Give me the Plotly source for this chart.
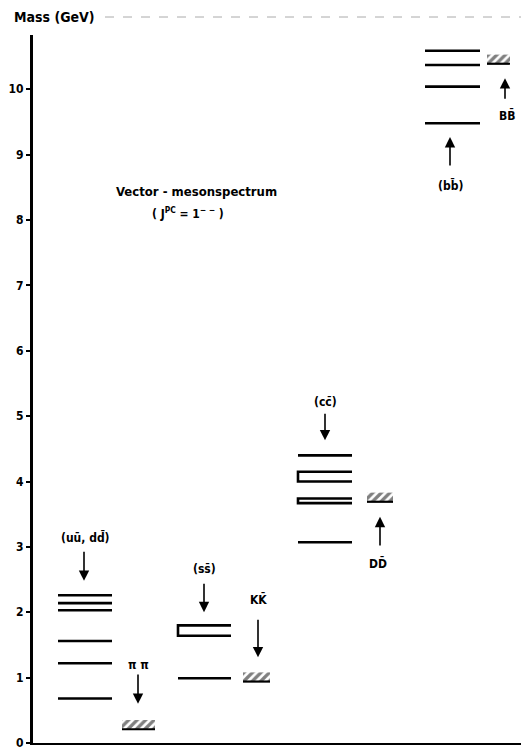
import plotly.graph_objects as go

# ---------------- data (masses in GeV) ----------------
uu_levels = [0.68, 1.22, 1.56, 2.03, 2.14, 2.26]
ss_levels = [0.99]
ss_doublets = [(1.64, 1.80)]
cc_levels = [3.07, 4.40]
cc_doublets = [(3.67, 3.74), (4.00, 4.15)]
bb_levels = [9.48, 10.04, 10.37, 10.59]

thr_names = ["π π", "KK\u0304", "DD\u0304", "BB\u0304"]
thr_low = [0.21, 0.94, 3.69, 10.39]
thr_high = [0.35, 1.08, 3.83, 10.53]

family_labels = ["(u\u016B, dd\u0304)", "(ss\u0304)", "(cc\u0304)", "(bb\u0304)"]
y_ticks = [0, 1, 2, 3, 4, 5, 6, 7, 8, 9, 10]

# ---------------- layout helpers (positions) ----------------
OFF = 8                      # page body margin of the browser
W, H = 529 - OFF, 752 - OFF
PL, PR, PT, PB = 33, 524, 35, 743          # plot area in window pixels
ml, mr, mt, mb = PL - OFF, W - (PR - OFF), PT - OFF, H - (PB - OFF)
YMAX = 10.83
FONT = "DejaVu Sans Condensed"

col_uu = (58, 112)
col_ss = (178, 231)
col_cc = (298, 352)
col_bb = (425, 480)
thr_cols = [(122, 155), (243, 270), (367, 393), (487, 510)]

fig = go.Figure()

def levels_trace(col, levels):
    xs, ys = [], []
    for m in levels:
        xs += [col[0], col[1], None]
        ys += [m, m, None]
    fig.add_trace(go.Scatter(x=xs, y=ys, mode="lines",
                             line=dict(color="black", width=2.6),
                             hoverinfo="skip", showlegend=False))

def doublet_trace(col, doublets):
    xs, ys = [], []
    for lo, hi in doublets:
        xs += [col[1], col[0], col[0], col[1], None]
        ys += [hi, hi, lo, lo, None]
    fig.add_trace(go.Scatter(x=xs, y=ys, mode="lines",
                             line=dict(color="black", width=2.6),
                             hoverinfo="skip", showlegend=False))

levels_trace(col_uu, uu_levels)
levels_trace(col_ss, ss_levels)
doublet_trace(col_ss, ss_doublets)
levels_trace(col_cc, cc_levels)
doublet_trace(col_cc, cc_doublets)
levels_trace(col_bb, bb_levels)

# thresholds (hatched)
for (x0, x1), lo, hi in zip(thr_cols, thr_low, thr_high):
    fig.add_trace(go.Scatter(x=[x0, x1, x1, x0, x0], y=[lo, lo, hi, hi, lo],
                             mode="lines", fill="toself",
                             line=dict(width=0, color="rgba(0,0,0,0)"),
                             fillcolor="white",
                             fillpattern=dict(shape="/", fgcolor="black",
                                              bgcolor="white", size=6, solidity=0.55),
                             hoverinfo="skip", showlegend=False))
    fig.add_trace(go.Scatter(x=[x0, x1], y=[lo, lo], mode="lines",
                             line=dict(color="black", width=2.2),
                             hoverinfo="skip", showlegend=False))

annotations = []
def label(x, y, text, size=12):
    annotations.append(dict(x=x, y=y, xref="x", yref="y", text=text, showarrow=False,
                            font=dict(family=FONT, size=size, color="black", weight="bold")))

def arrow(x, y_tail, y_head):
    annotations.append(dict(x=x, y=y_head, ax=x, ay=y_tail, xref="x", yref="y",
                            axref="x", ayref="y", text="", showarrow=True,
                            arrowhead=2, arrowsize=1.3, arrowwidth=1.6, arrowcolor="black"))

# family labels + arrows
label(85, 3.15, family_labels[0]); arrow(84, 2.95, 2.48)
label(204, 2.66, family_labels[1]); arrow(204, 2.46, 2.00)
label(325, 5.21, family_labels[2]); arrow(325, 5.06, 4.63)
label(450, 8.53, family_labels[3]); arrow(450, 8.81, 9.27)

# threshold labels + arrows
label(138, 1.19, thr_names[0]); arrow(138, 1.07, 0.60)
label(258, 2.19, thr_names[1]); arrow(258, 1.91, 1.31)
label(378, 2.75, thr_names[2]); arrow(380, 3.00, 3.46)
label(507, 9.60, thr_names[3]); arrow(505, 9.83, 10.17)

# title texts
label(196, 8.44, "Vector - mesonspectrum", size=13)
label(188, 8.10, "( J<sup>PC</sup> = 1<sup>− −</sup> )", size=12)

# window-pixel -> paper coordinates
px = lambda X: (X - PL) / (PR - PL)
py = lambda Y: (PB - Y) / (PB - PT)

annotations.append(dict(x=px(12), y=py(17), xref="paper", yref="paper", text="Mass (GeV)",
                        showarrow=False, xanchor="left", yanchor="middle",
                        font=dict(family=FONT, size=14, color="black", weight="bold")))

fig.update_layout(
    width=W, height=H,
    margin=dict(l=ml, r=mr, t=mt, b=mb, autoexpand=False),
    paper_bgcolor="white", plot_bgcolor="white",
    annotations=annotations,
    xaxis=dict(range=[PL, PR], showgrid=False, zeroline=False, showticklabels=False,
               ticks="", showline=True, linecolor="black", linewidth=2.2, fixedrange=True,
               automargin=False),
    yaxis=dict(range=[0, YMAX], showgrid=False, zeroline=False, tickvals=y_ticks,
               ticks="outside", ticklen=4, tickwidth=1.5, tickcolor="black",
               showline=True, linecolor="black", linewidth=3,
               tickfont=dict(family=FONT, size=12, color="black", weight="bold"),
               fixedrange=True, automargin=False),
)

# faint dashed remnant line along the top
fig.add_shape(type="line", xref="paper", yref="paper",
              x0=px(105), x1=px(W + OFF), y0=py(17), y1=py(17),
              line=dict(color="#aaaaaa", width=1, dash="dash"))

fig.write_html("out.html")
